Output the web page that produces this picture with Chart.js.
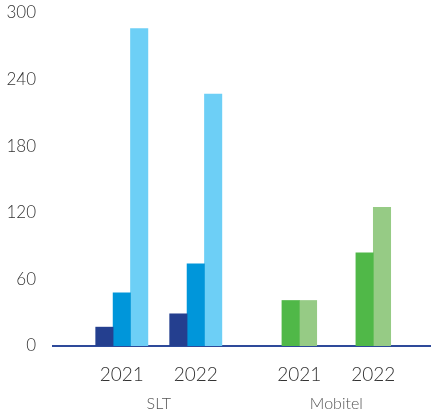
<!DOCTYPE html>
<html>
<head>
<meta charset="UTF-8">
<script src="https://cdn.jsdelivr.net/npm/chart.js@4"></script>
<style>
  html, body { margin: 0; padding: 0; background: #fff; }
  #wrap { width: 431px; height: 415px; }
</style>
</head>
<body>
<div id="wrap"><canvas id="chart" width="431" height="415"></canvas></div>
<script>
// data
const groups = ['SLT', 'Mobitel'];
const years = ['2021', '2022'];
const yTicks = [0, 60, 120, 180, 240, 300];

// SLT has three series, Mobitel two (one value per group/year slot, null where the series does not apply)
const sltSeries1 = [17, 29, null, null];
const sltSeries2 = [48, 74, null, null];
const sltSeries3 = [286, 227, null, null];
const mobitelSeries1 = [null, null, 41, 84];
const mobitelSeries2 = [null, null, 41, 125];

// layout: slots spaced 1 apart, extra gap between groups
const groupGap = 0.4;
const slots = [];
groups.forEach((g, gi) => {
    years.forEach((y, yi) => {
        slots.push({ pos: gi * (years.length + groupGap) + yi, year: y, group: g });
    });
});
const groupCenters = groups.map((g, gi) => ({
    pos: gi * (years.length + groupGap) + (years.length - 1) / 2,
    label: g
}));

const toPoints = arr => arr.map((v, i) => ({ x: slots[i].pos, y: v }));

const xMin = -0.93, xMax = 4.18;

new Chart(document.getElementById('chart'), {
    type: 'bar',
    data: {
        datasets: [
            { label: 'SLT 1', data: toPoints(sltSeries1), backgroundColor: '#243f8f' },
            { label: 'SLT 2', data: toPoints(sltSeries2), backgroundColor: '#0096da' },
            { label: 'SLT 3', data: toPoints(sltSeries3), backgroundColor: '#6dcff6' },
            { label: 'Mobitel 1', data: toPoints(mobitelSeries1), backgroundColor: '#50b848' },
            { label: 'Mobitel 2', data: toPoints(mobitelSeries2), backgroundColor: '#96cb85' }
        ]
    },
    options: {
        responsive: false,
        maintainAspectRatio: false,
        animation: false,
        devicePixelRatio: 1,
        layout: { padding: 0 },
        datasets: { bar: { skipNull: true, barThickness: 17.4 } },
        plugins: { legend: { display: false }, tooltip: { enabled: false } },
        scales: {
            x: {
                type: 'linear',
                offset: false,
                min: xMin,
                max: xMax,
                weight: 0,
                grid: { display: false, drawTicks: false },
                border: { display: true, color: '#2e4a9a', width: 2 },
                afterBuildTicks: axis => { axis.ticks = slots.map(s => ({ value: s.pos })); },
                afterFit: axis => { axis.height = 44; axis.paddingLeft = 0; axis.paddingRight = 0; },
                ticks: {
                    padding: 17,
                    color: '#333',
                    font: { family: 'Lato', size: 19, weight: 300 },
                    maxRotation: 0,
                    autoSkip: false,
                    callback: v => {
                        const s = slots.find(s => Math.abs(s.pos - v) < 1e-6);
                        return s ? s.year : '';
                    }
                }
            },
            group: {
                type: 'linear',
                position: 'bottom',
                offset: false,
                min: xMin,
                max: xMax,
                weight: 1,
                grid: { display: false, drawTicks: false },
                border: { display: false },
                afterBuildTicks: axis => { axis.ticks = groupCenters.map(g => ({ value: g.pos })); },
                afterFit: axis => { axis.height = 25; axis.paddingLeft = 0; axis.paddingRight = 0; },
                ticks: {
                    padding: 4,
                    color: '#555',
                    font: { family: 'Lato', size: 16, weight: 300 },
                    maxRotation: 0,
                    autoSkip: false,
                    callback: v => {
                        const g = groupCenters.find(g => Math.abs(g.pos - v) < 1e-6);
                        return g ? g.label : '';
                    }
                }
            },
            y: {
                min: 0,
                max: 300,
                grid: { display: false, drawTicks: false },
                border: { display: false },
                afterBuildTicks: axis => { axis.ticks = yTicks.map(v => ({ value: v })); },
                afterFit: axis => { axis.width = 53; axis.paddingTop = 13; axis.paddingBottom = 0; },
                ticks: {
                    padding: 17,
                    color: '#333',
                    font: { family: 'Lato', size: 17, weight: 300 }
                }
            }
        }
    }
});
</script>
</body>
</html>
